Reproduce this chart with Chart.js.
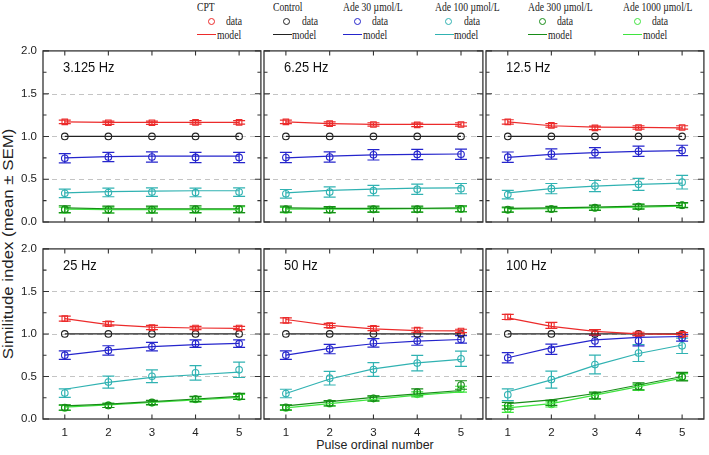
<!DOCTYPE html>
<html lang="en">
<head>
<meta charset="UTF-8">
<title>Similitude index</title>
<script src="https://cdn.jsdelivr.net/npm/chart.js@4.4.1/dist/chart.umd.min.js"></script>
<style>
  body { margin:0; background:#fff; }
  #wrap { position:relative; width:709px; height:455px; overflow:hidden; font-family:'Liberation Sans', Arial, sans-serif; color:#222; }
  canvas { position:absolute; }
  .hz { position:absolute; font-size:14px; line-height:14px; color:#111; transform:scaleX(0.92); transform-origin:0 50%; }
  .leg { position:absolute; font-family:'Liberation Serif', serif; font-size:11.5px; line-height:12px; color:#222; white-space:nowrap; transform:scaleX(0.84); transform-origin:0 50%; }
  .dot { position:absolute; width:7px; height:7px; box-sizing:border-box; border:1.3px solid; border-radius:50%; }
  .seg { position:absolute; width:19px; height:0; border-top:1.4px solid; }
  #xtitle { position:absolute; left:0; width:750px; top:437px; text-align:center; font-size:13.5px; transform:scaleX(0.92); }
  #ytitle { position:absolute; left:-112px; top:236px; width:240px; text-align:center; font-size:14px; line-height:16px; transform:rotate(-90deg) scaleX(1.2); }
</style>
</head>
<body>
<div id="wrap">
  <div id="xtitle">Pulse ordinal number</div>
  <div id="ytitle">Similitude index (mean ± SEM)</div>
</div>
<script>
// x positions and panel names
const pulses = [1, 2, 3, 4, 5];
const panelNames = ['3.125 Hz', '6.25 Hz', '12.5 Hz', '25 Hz', '50 Hz', '100 Hz'];
const groupNames = ['CPT', 'Control', 'Ade 30 \u00b5mol/L', 'Ade 100 \u00b5mol/L', 'Ade 300 \u00b5mol/L', 'Ade 1000 \u00b5mol/L'];
const groupColors = ['#ec2b2b', '#222222', '#2525cc', '#30b2b2', '#178c17', '#3fe43f'];

// one row per panel (3.125 ... 100 Hz), one value per pulse
const cptData = [
  [1.17, 1.16, 1.16, 1.165, 1.165],
  [1.17, 1.15, 1.14, 1.135, 1.14],
  [1.17, 1.13, 1.10, 1.105, 1.105],
  [1.18, 1.12, 1.075, 1.07, 1.07],
  [1.16, 1.10, 1.065, 1.045, 1.035],
  [1.20, 1.10, 1.02, 1.0, 0.995]
];
const cptModel = [
  [1.17, 1.165, 1.165, 1.165, 1.165],
  [1.17, 1.15, 1.14, 1.14, 1.14],
  [1.17, 1.125, 1.11, 1.105, 1.10],
  [1.18, 1.11, 1.08, 1.07, 1.065],
  [1.17, 1.10, 1.06, 1.04, 1.035],
  [1.19, 1.09, 1.03, 1.0, 0.995]
];
const cptSem = [
  [0.02, 0.02, 0.02, 0.02, 0.02],
  [0.02, 0.02, 0.02, 0.02, 0.02],
  [0.025, 0.02, 0.02, 0.02, 0.02],
  [0.03, 0.025, 0.025, 0.02, 0.02],
  [0.03, 0.025, 0.025, 0.025, 0.02],
  [0.03, 0.035, 0.03, 0.02, 0.02]
];

const controlData = [
  [1, 1, 1, 1, 1],
  [1, 1, 1, 1, 1],
  [1, 1, 1, 1, 1],
  [1, 1, 1, 1, 1],
  [1, 1, 1, 1, 1],
  [1, 1, 1, 1, 1]
];
const controlModel = [
  [1, 1, 1, 1, 1],
  [1, 1, 1, 1, 1],
  [1, 1, 1, 1, 1],
  [1, 1, 1, 1, 1],
  [1, 1, 1, 1, 1],
  [1, 1, 1, 1, 1]
];
const controlSem = [
  [0, 0, 0, 0, 0],
  [0, 0, 0, 0, 0],
  [0, 0, 0, 0, 0],
  [0, 0, 0, 0, 0],
  [0, 0, 0, 0, 0],
  [0, 0, 0, 0, 0]
];

const ade30Data = [
  [0.745, 0.76, 0.76, 0.755, 0.755],
  [0.753, 0.76, 0.785, 0.79, 0.792],
  [0.758, 0.795, 0.81, 0.826, 0.837],
  [0.75, 0.806, 0.852, 0.886, 0.886],
  [0.75, 0.822, 0.894, 0.917, 0.936],
  [0.72, 0.82, 0.917, 0.92, 0.955]
];
const ade30Model = [
  [0.75, 0.765, 0.77, 0.77, 0.77],
  [0.75, 0.77, 0.785, 0.79, 0.795],
  [0.755, 0.79, 0.81, 0.825, 0.835],
  [0.75, 0.81, 0.85, 0.875, 0.89],
  [0.75, 0.83, 0.885, 0.915, 0.935],
  [0.72, 0.84, 0.93, 0.96, 0.97]
];
const ade30Sem = [
  [0.055, 0.055, 0.06, 0.06, 0.06],
  [0.06, 0.06, 0.06, 0.06, 0.06],
  [0.06, 0.06, 0.06, 0.06, 0.06],
  [0.05, 0.055, 0.05, 0.045, 0.045],
  [0.05, 0.055, 0.05, 0.05, 0.045],
  [0.06, 0.06, 0.065, 0.06, 0.04]
];

const ade100Data = [
  [0.335, 0.345, 0.35, 0.345, 0.35],
  [0.33, 0.35, 0.367, 0.383, 0.39],
  [0.32, 0.39, 0.42, 0.44, 0.466],
  [0.305, 0.434, 0.502, 0.543, 0.578],
  [0.30, 0.48, 0.582, 0.657, 0.708],
  [0.285, 0.463, 0.64, 0.776, 0.86]
];
const ade100Model = [
  [0.34, 0.355, 0.36, 0.365, 0.365],
  [0.34, 0.37, 0.385, 0.395, 0.40],
  [0.34, 0.39, 0.42, 0.44, 0.455],
  [0.35, 0.43, 0.49, 0.52, 0.55],
  [0.30, 0.47, 0.59, 0.66, 0.70],
  [0.32, 0.46, 0.63, 0.77, 0.87]
];
const ade100Sem = [
  [0.05, 0.05, 0.05, 0.05, 0.05],
  [0.05, 0.06, 0.06, 0.06, 0.06],
  [0.05, 0.06, 0.065, 0.07, 0.08],
  [0.05, 0.07, 0.075, 0.085, 0.09],
  [0.05, 0.08, 0.08, 0.09, 0.09],
  [0.07, 0.10, 0.11, 0.10, 0.09]
];

const ade300Data = [
  [0.15, 0.145, 0.145, 0.15, 0.15],
  [0.15, 0.145, 0.15, 0.15, 0.155],
  [0.145, 0.152, 0.167, 0.18, 0.197],
  [0.135, 0.16, 0.195, 0.235, 0.266],
  [0.137, 0.186, 0.243, 0.315, 0.40],
  [0.155, 0.19, 0.277, 0.384, 0.498]
];
const ade300Model = [
  [0.165, 0.155, 0.155, 0.155, 0.155],
  [0.165, 0.16, 0.16, 0.16, 0.165],
  [0.16, 0.165, 0.175, 0.185, 0.195],
  [0.155, 0.175, 0.205, 0.235, 0.265],
  [0.155, 0.205, 0.255, 0.295, 0.335],
  [0.18, 0.225, 0.30, 0.40, 0.50]
];
const ade300Sem = [
  [0.04, 0.04, 0.04, 0.04, 0.04],
  [0.035, 0.035, 0.035, 0.035, 0.035],
  [0.03, 0.03, 0.03, 0.03, 0.03],
  [0.03, 0.025, 0.025, 0.03, 0.035],
  [0.03, 0.03, 0.03, 0.04, 0.05],
  [0.04, 0.03, 0.04, 0.04, 0.05]
];

const ade1000Data = [
  [0.14, 0.14, 0.14, 0.14, 0.145],
  [0.14, 0.14, 0.145, 0.145, 0.15],
  [0.14, 0.15, 0.165, 0.18, 0.195],
  [0.13, 0.16, 0.19, 0.23, 0.26],
  [0.13, 0.18, 0.24, 0.29, 0.35],
  [0.118, 0.171, 0.27, 0.372, 0.494]
];
const ade1000Model = [
  [0.15, 0.145, 0.145, 0.145, 0.145],
  [0.15, 0.15, 0.15, 0.155, 0.155],
  [0.15, 0.155, 0.165, 0.175, 0.185],
  [0.14, 0.165, 0.195, 0.225, 0.255],
  [0.13, 0.18, 0.23, 0.28, 0.32],
  [0.13, 0.18, 0.28, 0.38, 0.48]
];
const ade1000Sem = [
  [0.035, 0.035, 0.035, 0.035, 0.035],
  [0.03, 0.03, 0.03, 0.03, 0.03],
  [0.025, 0.025, 0.025, 0.025, 0.025],
  [0.03, 0.025, 0.025, 0.03, 0.03],
  [0.03, 0.03, 0.03, 0.03, 0.035],
  [0.04, 0.03, 0.035, 0.035, 0.04]
];

const allData = [cptData, controlData, ade30Data, ade100Data, ade300Data, ade1000Data];
const allModel = [cptModel, controlModel, ade30Model, ade100Model, ade300Model, ade1000Model];
const allSem = [cptSem, controlSem, ade30Sem, ade100Sem, ade300Sem, ade1000Sem];

// page layout
const cols = [{ l: 43, w: 221 }, { l: 264, w: 222 }, { l: 486, w: 221 }];
const rows = [{ t: 46, h: 176 }, { t: 244, h: 175 }];
const legendX = [197, 272.5, 343, 434.5, 528, 623];
const PADL = 43, PADT = 8, PADR = 2, PADB = 30;

const wrap = document.getElementById('wrap');

// legend (html)
groupNames.forEach((name, i) => {
  const x0 = legendX[i], c = groupColors[i];
  const h = document.createElement('div');
  h.className = 'leg'; h.style.left = x0 + 'px'; h.style.top = '1px'; h.textContent = name;
  wrap.appendChild(h);
  const dot = document.createElement('div');
  dot.className = 'dot'; dot.style.left = (x0 + 10.5) + 'px'; dot.style.top = '17.5px'; dot.style.borderColor = c;
  wrap.appendChild(dot);
  const d = document.createElement('div');
  d.className = 'leg'; d.style.left = (x0 + 29) + 'px'; d.style.top = '15px'; d.textContent = 'data';
  wrap.appendChild(d);
  const seg = document.createElement('div');
  seg.className = 'seg'; seg.style.left = x0 + 'px'; seg.style.top = '34px'; seg.style.borderColor = c;
  wrap.appendChild(seg);
  const m = document.createElement('div');
  m.className = 'leg'; m.style.left = (x0 + 19.5) + 'px'; m.style.top = '28.5px'; m.textContent = 'model';
  wrap.appendChild(m);
});

// frame, inward ticks, dashed reference lines and error bars
const panelDeco = {
  id: 'panelDeco',
  beforeDatasetsDraw(chart) {
    const { ctx, chartArea: a, scales: { y } } = chart;
    ctx.save();
    ctx.strokeStyle = '#c4c4c4';
    ctx.lineWidth = 1;
    ctx.setLineDash([5, 4]);
    [0.5, 1.0, 1.5].forEach(v => {
      const py = Math.round(y.getPixelForValue(v)) + 0.5;
      ctx.beginPath(); ctx.moveTo(a.left, py); ctx.lineTo(a.right, py); ctx.stroke();
    });
    ctx.restore();
  },
  afterDatasetDraw(chart, args) {
    const ds = chart.data.datasets[args.index];
    if (!ds.sem) return;
    const { ctx, scales: { y } } = chart;
    ctx.save();
    ctx.strokeStyle = ds.borderColor;
    ctx.lineWidth = 1.2;
    args.meta.data.forEach((pt, i) => {
      const s = ds.sem[i];
      if (!s) return;
      const v = ds.data[i].y;
      const y1 = y.getPixelForValue(v + s), y2 = y.getPixelForValue(v - s);
      ctx.beginPath();
      ctx.moveTo(pt.x, y1); ctx.lineTo(pt.x, y2);
      ctx.moveTo(pt.x - 6, y1); ctx.lineTo(pt.x + 6, y1);
      ctx.moveTo(pt.x - 6, y2); ctx.lineTo(pt.x + 6, y2);
      ctx.stroke();
    });
    ctx.restore();
  },
  afterDraw(chart) {
    const { ctx, chartArea: a, scales: { x, y } } = chart;
    ctx.save();
    ctx.strokeStyle = '#333';
    ctx.lineWidth = 1.3;
    ctx.strokeRect(a.left, a.top, a.right - a.left, a.bottom - a.top);
    ctx.lineWidth = 1.1;
    ctx.beginPath();
    for (let k = 0; k <= 8; k++) {
      const py = y.getPixelForValue(k * 0.25);
      const len = k % 2 === 0 ? 6 : 3.5;
      ctx.moveTo(a.left, py); ctx.lineTo(a.left + len, py);
      ctx.moveTo(a.right, py); ctx.lineTo(a.right - len, py);
    }
    pulses.forEach(p => {
      const px = x.getPixelForValue(p);
      ctx.moveTo(px, a.top); ctx.lineTo(px, a.top + 4.5);
      ctx.moveTo(px, a.bottom); ctx.lineTo(px, a.bottom - 4.5);
    });
    ctx.stroke();
    ctx.restore();
  }
};

function makePanel(p) {
  const col = cols[p % 3], row = rows[Math.floor(p / 3)];
  const isLeft = p % 3 === 0, isBottom = p >= 3;
  const cv = document.createElement('canvas');
  const W = col.w + PADL + PADR, H = row.h + PADT + PADB;
  cv.width = W; cv.height = H;
  cv.style.left = (col.l - PADL) + 'px';
  cv.style.top = (row.t - PADT) + 'px';
  cv.style.width = W + 'px'; cv.style.height = H + 'px';
  wrap.appendChild(cv);

  const lab = document.createElement('div');
  lab.className = 'hz';
  lab.style.left = (col.l + 19.5) + 'px';
  lab.style.top = (row.t + 14) + 'px';
  lab.textContent = panelNames[p];
  wrap.appendChild(lab);

  const datasets = [];
  groupNames.forEach((g, i) => {
    datasets.push({
      label: g + ' model',
      data: pulses.map((x, k) => ({ x, y: allModel[i][p][k] })),
      borderColor: groupColors[i],
      borderWidth: 1.2,
      pointRadius: 0,
      fill: false
    });
  });
  groupNames.forEach((g, i) => {
    datasets.push({
      label: g + ' data',
      data: pulses.map((x, k) => ({ x, y: allData[i][p][k] })),
      sem: allSem[i][p],
      borderColor: groupColors[i],
      backgroundColor: 'rgba(0,0,0,0)',
      showLine: false,
      pointStyle: i === 0 ? 'rect' : 'circle',
      pointRadius: i === 0 ? 3.9 : 3.3,
      pointBorderWidth: 1.1
    });
  });

  new Chart(cv.getContext('2d'), {
    type: 'line',
    data: { datasets },
    options: {
      responsive: false,
      animation: false,
      devicePixelRatio: 1,
      layout: { padding: { top: PADT, right: PADR, left: 0, bottom: 0 } },
      plugins: { legend: { display: false }, tooltip: { enabled: false } },
      scales: {
        x: {
          type: 'linear', min: 0.5, max: 5.5,
          afterBuildTicks: ax => { ax.ticks = pulses.map(v => ({ value: v })); },
          afterFit: ax => { ax.height = PADB; },
          grid: { display: false, drawTicks: false },
          border: { display: false },
          // same layout in every panel; labels only shown on the bottom row
          ticks: { padding: 7, color: isBottom ? '#222' : 'rgba(0,0,0,0)', font: { family: 'Liberation Sans', size: 11.5 } }
        },
        y: {
          type: 'linear', min: 0, max: 2,
          afterBuildTicks: ax => { ax.ticks = [0, 0.5, 1, 1.5, 2].map(v => ({ value: v })); },
          afterFit: ax => { ax.width = PADL; },
          grid: { display: false, drawTicks: false },
          border: { display: false },
          ticks: {
            padding: 6, color: isLeft ? '#222' : 'rgba(0,0,0,0)',
            font: { family: 'Liberation Sans', size: 11.5 },
            callback: v => v.toFixed(1)
          }
        }
      }
    },
    plugins: [panelDeco]
  });
}

for (let p = 0; p < 6; p++) makePanel(p);
</script>
</body>
</html>
